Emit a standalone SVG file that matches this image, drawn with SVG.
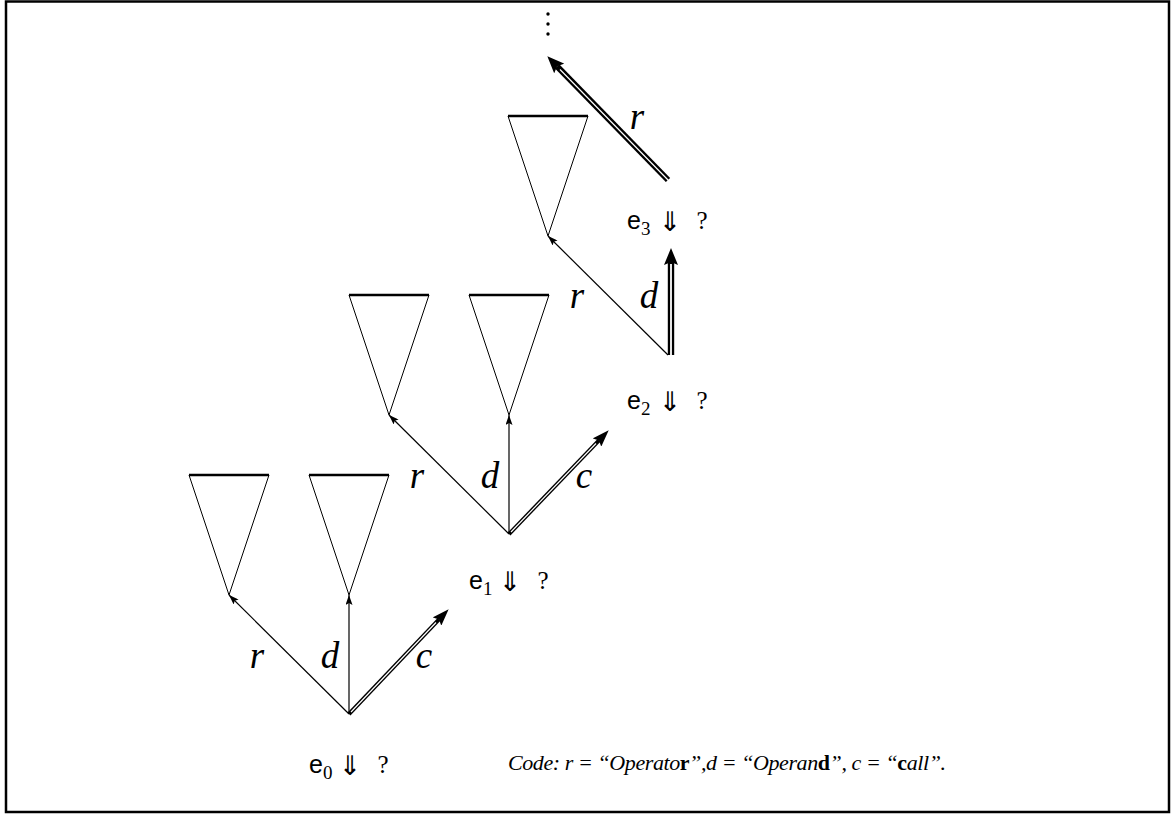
<svg xmlns="http://www.w3.org/2000/svg" xmlns:xlink="http://www.w3.org/1999/xlink" width="1172" height="814" viewBox="0 0 1172 814">
<style>
.frame{fill:none;stroke:#000;stroke-width:2.5}
.tri{fill:none;stroke:#000;stroke-width:1}
.trtop{stroke:#000;stroke-width:2.5}
.thin{fill:none;stroke:#000;stroke-width:1.2}
.dbl{fill:none;stroke:#000}
.gap{fill:none;stroke:#fff}
.lbl{font-family:"Liberation Serif","DejaVu Serif",serif;font-style:italic;font-size:37px;fill:#000;text-anchor:middle}
.sf{font-family:"Liberation Sans","DejaVu Sans",sans-serif;font-size:25px;fill:#000}
.sub{font-family:"Liberation Serif","DejaVu Serif",serif;font-size:19px;fill:#000}
.op{font-family:"DejaVu Sans","Liberation Serif",sans-serif;font-size:27px;fill:#000;text-anchor:middle}
.q{font-family:"Liberation Serif","DejaVu Serif",serif;font-size:25px;fill:#000;text-anchor:middle}
.code{font-family:"Liberation Serif","DejaVu Serif",serif;font-style:italic;font-size:22px;fill:#000}
.b{font-weight:bold;font-style:normal}
</style>
<defs>
<marker id="ah" markerUnits="userSpaceOnUse" markerWidth="10" markerHeight="7" refX="10" refY="3.5" orient="auto">
<path d="M0,0 L10,3.5 L0,7 L2,3.5 z" fill="#000"/>
</marker>
<marker id="bh" markerUnits="userSpaceOnUse" markerWidth="17" markerHeight="12" refX="3" refY="6" orient="auto">
<path d="M0,0 L17,6 L0,12 L3,6 z" fill="#000"/>
</marker>
<marker id="bh2" markerUnits="userSpaceOnUse" markerWidth="17" markerHeight="14" refX="3" refY="7" orient="auto">
<path d="M0,0 L17,7 L0,14 L3,7 z" fill="#000"/>
</marker>
<g id="tri">
<path class="tri" d="M-40,0 L0,120 L40,0"/>
<line class="trtop" x1="-40" y1="0" x2="40" y2="0"/>
</g>
</defs>

<rect class="frame" x="6" y="1.5" width="1163" height="810.5"/>

<g id="t0a"><use xlink:href="#tri" href="#tri" x="229" y="475"/></g>
<g id="t0b"><use xlink:href="#tri" href="#tri" x="349" y="475"/></g>
<g id="t1a"><use xlink:href="#tri" href="#tri" x="389" y="295"/></g>
<g id="t1b"><use xlink:href="#tri" href="#tri" x="509" y="295"/></g>
<g id="t2"><use xlink:href="#tri" href="#tri" x="548" y="116"/></g>

<g id="dots">
<circle cx="548" cy="14" r="1.7"/>
<circle cx="548" cy="24" r="1.7"/>
<circle cx="548" cy="34" r="1.7"/>
</g>

<g id="connectors">
<!-- e0 -->
<line class="thin" x1="349" y1="714" x2="229" y2="595" marker-end="url(#ah)"/>
<line class="thin" x1="349" y1="714" x2="349" y2="595" stroke-width="1.5" marker-end="url(#ah)"/>
<line class="dbl" x1="349" y1="714" x2="439" y2="619.4" stroke-width="4" marker-end="url(#bh)"/>
<line class="gap" x1="351" y1="712" x2="436" y2="622.5" stroke-width="1.2"/>
<!-- e1 -->
<line class="thin" x1="509" y1="534" x2="389" y2="415" marker-end="url(#ah)"/>
<line class="thin" x1="509" y1="534" x2="509" y2="415" stroke-width="1.5" marker-end="url(#ah)"/>
<line class="dbl" x1="509" y1="534" x2="599" y2="440.4" stroke-width="4" marker-end="url(#bh)"/>
<line class="gap" x1="511" y1="532" x2="596" y2="443.5" stroke-width="1.2"/>
<!-- e2 -->
<line class="thin" x1="668" y1="355" x2="548" y2="236" marker-end="url(#ah)"/>
<line class="dbl" x1="671" y1="355" x2="671" y2="262" stroke-width="6.4" marker-end="url(#bh2)"/>
<line class="gap" x1="671" y1="356" x2="671" y2="264" stroke-width="1.8"/>
<!-- e3 -->
<line class="dbl" x1="668" y1="180" x2="557.1" y2="66.3" stroke-width="6" marker-end="url(#bh2)"/>
<line class="gap" x1="668.5" y1="180.5" x2="560" y2="69.5" stroke-width="1.2"/>
</g>

<g id="labels">
<text class="lbl" x="257" y="668">r</text>
<text class="lbl" x="330" y="668">d</text>
<text class="lbl" x="424" y="668">c</text>
<text class="lbl" x="417" y="488">r</text>
<text class="lbl" x="490" y="488">d</text>
<text class="lbl" x="584" y="488">c</text>
<text class="lbl" x="577" y="308">r</text>
<text class="lbl" x="649" y="308">d</text>
<text class="lbl" x="637" y="129">r</text>
</g>

<g id="e0">
<text class="sf" x="309" y="773">e</text><text class="sub" x="323" y="779">0</text>
<text class="op" x="350" y="775">⇓</text><text class="q" x="383" y="773">?</text>
</g>
<g id="e1">
<text class="sf" x="469" y="589">e</text><text class="sub" x="483" y="595">1</text>
<text class="op" x="510" y="591">⇓</text><text class="q" x="543" y="589">?</text>
</g>
<g id="e2">
<text class="sf" x="627" y="409">e</text><text class="sub" x="641" y="415">2</text>
<text class="op" x="670" y="411">⇓</text><text class="q" x="702" y="409">?</text>
</g>
<g id="e3">
<text class="sf" x="627" y="229">e</text><text class="sub" x="641" y="235">3</text>
<text class="op" x="670" y="231">⇓</text><text class="q" x="702" y="229">?</text>
</g>

<g id="code">
<text class="code" x="508" y="770" textLength="438" lengthAdjust="spacing">Code: r = “Operato<tspan class="b">r</tspan>”,d = “Operan<tspan class="b">d</tspan>”, c = “<tspan class="b">c</tspan>all”.</text>
</g>
</svg>
